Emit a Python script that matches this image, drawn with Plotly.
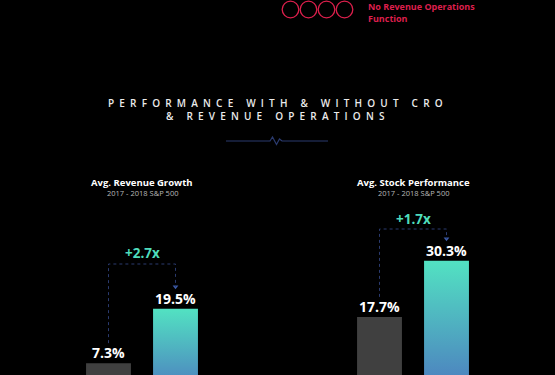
import plotly.graph_objects as go

# ---------------- data ----------------
panel_titles = ["Avg. Revenue Growth", "Avg. Stock Performance"]
panel_subtitles = ["2017 - 2018 S&P 500", "2017 - 2018 S&P 500"]
categories = ["Without RevOps", "With RevOps"]
without_values = [7.3, 17.7]
with_values = [19.5, 30.3]
multipliers = ["+2.7x", "+1.7x"]
legend_label = "No Revenue Operations<br>Function"
title_lines = ["PERFORMANCE WITH & WITHOUT CRO", "& REVENUE OPERATIONS"]

# ---------------- style / layout ----------------
W, H = 555, 375
BG = "#000000"
GRAY = "#404040"
TEAL_TOP = "#52e2c2"
BLUE_BOTTOM = "#4c78bf"
ACCENT = "#4fdcbc"
RED = "#dc1f4c"
NAVY = "#2a3a6e"
FONT = "Open Sans"
PX_PER_UNIT = 4.447
Y_MIN = 4.63
Y_MAX = Y_MIN + H / PX_PER_UNIT
BAR_W = 0.67
domains = [(75 / W, 209 / W), (346 / W, 480 / W)]
bracket_top_px = [264, 229]
mult_label_px = [253, 219]


def py_to_val(py):
    return Y_MIN + (H - py) / PX_PER_UNIT


def px(x):
    return x / W


def py(y):
    return 1 - y / H


def spaced(s, gap="\u00a0\u00a0", word_gap="\u00a0" * 5):
    words = s.split(" ")
    return word_gap.join(gap.join(list(w)) for w in words)


fig = go.Figure()
shapes = []
annotations = []

for i in range(2):
    xa = "x" if i == 0 else "x2"
    ya = "y" if i == 0 else "y2"
    # gray bar (without)
    fig.add_trace(go.Bar(
        x=[0], y=[without_values[i]], width=BAR_W,
        marker=dict(color=GRAY, line=dict(width=0)),
        xaxis=xa, yaxis=ya, showlegend=False, hoverinfo="skip",
    ))
    # gradient bar (with)
    v = with_values[i]
    fig.add_trace(go.Scatter(
        x=[1 - BAR_W / 2, 1 + BAR_W / 2, 1 + BAR_W / 2, 1 - BAR_W / 2, 1 - BAR_W / 2],
        y=[0, 0, v, v, 0],
        fill="toself", mode="lines", line=dict(width=0),
        fillgradient=dict(type="vertical",
                          colorscale=[[0, BLUE_BOTTOM], [1, TEAL_TOP]]),
        xaxis=xa, yaxis=ya, showlegend=False, hoverinfo="skip",
    ))
    # value labels
    for xi, val in [(0, without_values[i]), (1, with_values[i])]:
        annotations.append(dict(
            x=xi, y=val, xref=xa, yref=ya, text=f"<b>{val:.1f}%</b>",
            showarrow=False, yanchor="middle", yshift=10.5,
            font=dict(family=FONT, size=14, color="white"),
        ))
    # dotted connector
    y_start = without_values[i] + 20 / PX_PER_UNIT
    y_top = py_to_val(bracket_top_px[i])
    y_end = with_values[i] + 22 / PX_PER_UNIT
    shapes.append(dict(
        type="path", xref=xa, yref=ya,
        path=f"M 0 {y_start} L 0 {y_top} L 1 {y_top} L 1 {y_end}",
        line=dict(color=NAVY, width=1, dash="dot"),
    ))
    fig.add_trace(go.Scatter(
        x=[1], y=[y_end], mode="markers",
        marker=dict(symbol="triangle-down", size=5, color="#3b5aa8"),
        xaxis=xa, yaxis=ya, showlegend=False, hoverinfo="skip",
    ))
    # multiplier label
    annotations.append(dict(
        x=0.5, y=py_to_val(mult_label_px[i]), xref=xa, yref=ya,
        text=f"<b>{multipliers[i]}</b>", showarrow=False, yanchor="middle",
        font=dict(family=FONT, size=13.5, color=ACCENT),
    ))
    # panel titles
    cx = (domains[i][0] + domains[i][1]) / 2
    annotations.append(dict(
        x=cx, y=py(182), xref="paper", yref="paper", xanchor="center",
        text=f"<b>{panel_titles[i]}</b>", showarrow=False, yanchor="middle",
        font=dict(family=FONT, size=9.5, color="white"),
    ))
    annotations.append(dict(
        x=cx, y=py(192.5), xref="paper", yref="paper", xanchor="center",
        text=panel_subtitles[i], showarrow=False, yanchor="middle",
        font=dict(family=FONT, size=7.5, color="#b8b8b8"),
    ))

# main title
for line, y in zip(title_lines, [103, 116]):
    annotations.append(dict(
        x=px(275.5), y=py(y), xref="paper", yref="paper", xanchor="center",
        text=spaced(line), showarrow=False, yanchor="middle",
        font=dict(family=FONT, size=10, color="#ebebeb", weight=600),
    ))

# decorative line with a pulse
pts = [(226, 141), (270, 141), (272.5, 137), (276.5, 144.5), (279.5, 139), (282, 141), (328, 141)]
path = "M " + " L ".join(f"{px(x)} {py(y)}" for x, y in pts)
shapes.append(dict(type="path", xref="paper", yref="paper", path=path,
                   line=dict(color=NAVY, width=1.2)))

# legend circles (top)
for cxp in [290.5, 308.5, 326.5, 344.5]:
    r = 8.3
    shapes.append(dict(type="circle", xref="paper", yref="paper",
                       x0=px(cxp - r), x1=px(cxp + r), y0=py(9.5 + r), y1=py(9.5 - r),
                       line=dict(color=RED, width=1.3)))
annotations.append(dict(
    x=px(366), y=py(-2.5), xref="paper", yref="paper", text=f"<b>{legend_label}</b>",
    showarrow=False, xanchor="left", yanchor="top", align="left",
    font=dict(family=FONT, size=9, color=RED),
))

axis_common = dict(showgrid=False, zeroline=False, showticklabels=False,
                   showline=False, ticks="")
fig.update_layout(
    width=W, height=H,
    margin=dict(l=0, r=0, t=0, b=0),
    paper_bgcolor=BG, plot_bgcolor=BG,
    barmode="overlay",
    xaxis=dict(domain=list(domains[0]), range=[-0.5, 1.5], **axis_common),
    xaxis2=dict(domain=list(domains[1]), range=[-0.5, 1.5], **axis_common),
    yaxis=dict(domain=[0, 1], range=[Y_MIN, Y_MAX], anchor="x", **axis_common),
    yaxis2=dict(domain=[0, 1], range=[Y_MIN, Y_MAX], anchor="x2", **axis_common),
    shapes=shapes,
    annotations=annotations,
)

fig.write_html(
    "out.html",
    config={"displayModeBar": False},
    post_script="document.body.style.margin='0';document.body.style.background='#000';",
)
